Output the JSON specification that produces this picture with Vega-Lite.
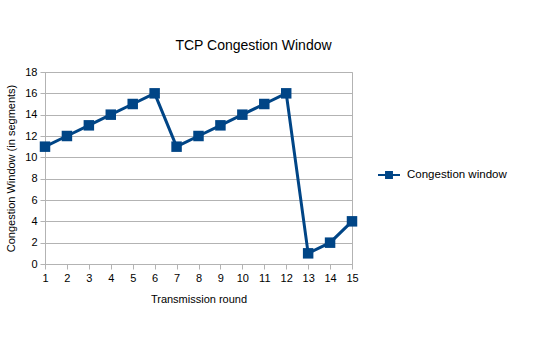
{
  "$schema": "https://vega.github.io/schema/vega-lite/v6.json",
  "autosize": {"type": "none"},
  "width": 307,
  "height": 192,
  "padding": {"left": 45, "top": 72, "right": 204, "bottom": 87},
  "background": "white",
  "config": {
    "font": "Liberation Sans",
    "view": {"stroke": "#b3b3b3", "strokeWidth": 1},
    "axis": {
      "labelFont": "Liberation Sans",
      "titleFont": "Liberation Sans",
      "labelFontSize": 11,
      "titleFontSize": 11,
      "titleFontWeight": "normal",
      "labelColor": "#000000",
      "titleColor": "#000000",
      "domainColor": "#b3b3b3",
      "tickColor": "#b3b3b3",
      "gridColor": "#b3b3b3",
      "tickSize": 5
    }
  },
  "title": {
    "text": "TCP Congestion Window",
    "fontSize": 14,
    "fontWeight": "normal",
    "color": "#000000",
    "font": "Liberation Sans",
    "anchor": "middle",
    "frame": "group",
    "dx": 55,
    "offset": 13
  },
  "data": {
    "values": [
      {"round": 1, "cwnd": 11},
      {"round": 2, "cwnd": 12},
      {"round": 3, "cwnd": 13},
      {"round": 4, "cwnd": 14},
      {"round": 5, "cwnd": 15},
      {"round": 6, "cwnd": 16},
      {"round": 7, "cwnd": 11},
      {"round": 8, "cwnd": 12},
      {"round": 9, "cwnd": 13},
      {"round": 10, "cwnd": 14},
      {"round": 11, "cwnd": 15},
      {"round": 12, "cwnd": 16},
      {"round": 13, "cwnd": 1},
      {"round": 14, "cwnd": 2},
      {"round": 15, "cwnd": 4}
    ]
  },
  "encoding": {
    "x": {
      "field": "round",
      "type": "quantitative",
      "scale": {"domain": [1, 15], "nice": false, "zero": false},
      "axis": {
        "title": "Transmission round",
        "values": [1,2,3,4,5,6,7,8,9,10,11,12,13,14,15],
        "format": "d",
        "grid": false,
        "labelFlush": false,
        "labelOverlap": false,
        "labelBound": false,
        "labelPadding": 3,
        "titlePadding": 10
      }
    },
    "y": {
      "field": "cwnd",
      "type": "quantitative",
      "scale": {"domain": [0, 18], "nice": false},
      "axis": {
        "title": "Congestion Window (in segments)",
        "values": [0,2,4,6,8,10,12,14,16,18],
        "grid": true,
        "labelFlush": false,
        "labelPadding": 3,
        "titlePadding": 8
      }
    },
    "color": {
      "datum": "Congestion window",
      "type": "nominal",
      "scale": {"range": ["#004586"]},
      "legend": {
        "title": null,
        "orient": "none",
        "legendX": 333,
        "legendY": 92,
        "labelFontSize": 11.5,
        "labelColor": "#000000",
        "labelFont": "Liberation Sans",
        "symbolType": "M-1,-0.08H1V0.08H-1Z M-0.36,-0.36H0.36V0.36H-0.36Z",
        "symbolSize": 484,
        "symbolStrokeWidth": 0,
        "symbolFillColor": "#004586",
        "symbolOpacity": 1,
        "labelOffset": 7
      }
    }
  },
  "layer": [
    {"mark": {"type": "line", "strokeWidth": 3}},
    {"mark": {"type": "square", "size": 110, "opacity": 1, "filled": true}}
  ]
}
